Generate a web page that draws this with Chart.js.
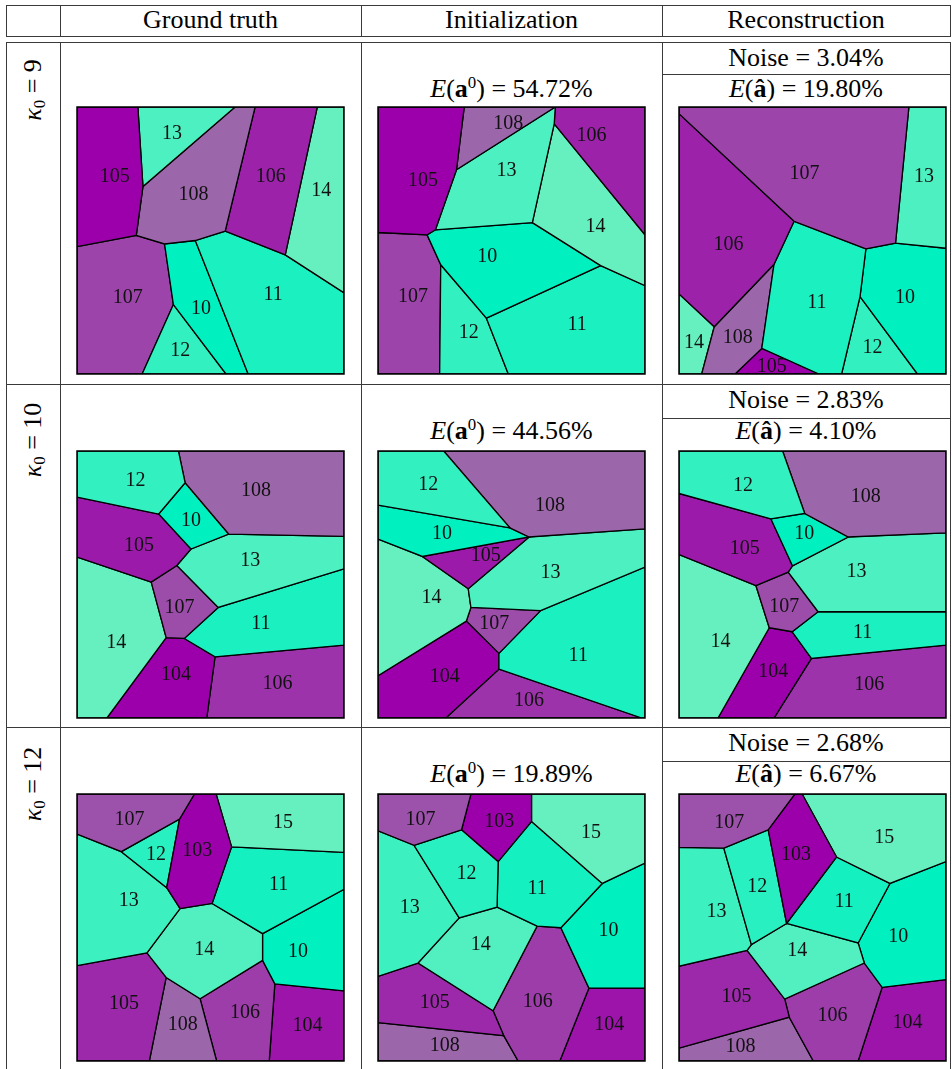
<!DOCTYPE html>
<html>
<head>
<meta charset="utf-8">
<title>Ground truth / Initialization / Reconstruction</title>
<script src="https://cdn.jsdelivr.net/npm/chart.js@4.4.1/dist/chart.umd.min.js"></script>
<style>
  body { margin: 0; background: #fff; }
  #page { position: relative; width: 952px; height: 1069px; overflow: hidden;
          font-family: "Liberation Serif", "Times New Roman", Times, "Nimbus Roman", "Noto Serif", "DejaVu Serif", FreeSerif, serif;
          color: #000; }
  .hl { position: absolute; height: 1px; background: #3a3a3a; }
  .vl { position: absolute; width: 1px; background: #3a3a3a; }
  .txt { position: absolute; text-align: center; font-size: 26px; line-height: 30px; white-space: nowrap; }
  .rot { position: absolute; font-size: 26px; line-height: 30px; white-space: nowrap;
         transform: translate(-50%, -50%) rotate(-90deg); }
  .panel { position: absolute; }
  sup { font-size: 65%; vertical-align: 0.55em; line-height: 0; }
  sub { font-size: 65%; vertical-align: -0.25em; line-height: 0; }
</style>
</head>
<body>
<div id="page"></div>
<script>
// ============================================
// DATA
// ============================================

const columns = ['Ground truth', 'Initialization', 'Reconstruction'];
const kappa = [9, 10, 12];
const initError = ['54.72', '44.56', '19.89'];
const noiseLevel = ['3.04', '2.83', '2.68'];
const reconError = ['19.80', '4.10', '6.67'];

// each cell: [id, polygon vertices (x right, y down, 0..100), label anchor]
const gt9 = [
  [105, [[0,0],[22.8,0],[24.7,29.8],[22.2,48.1],[0,52.3]], [14.1,26.3]],
  [13,  [[22.8,0],[59.2,0],[24.7,29.8]], [35.6,10]],
  [108, [[24.7,29.8],[59.2,0],[66.7,0],[55.5,46.5],[44.3,50],[32.8,51.3],[22.2,48.1]], [43.6,32.9]],
  [106, [[66.7,0],[90,0],[78,55.4],[55.5,46.5]], [72.6,26]],
  [14,  [[90,0],[100,0],[100,69.6],[78,55.4]], [91.5,31.5]],
  [11,  [[55.5,46.5],[78,55.4],[100,69.6],[100,100],[64.1,100],[44.3,50]], [73.5,70.4]],
  [10,  [[32.8,51.3],[44.3,50],[64.1,100],[55.8,100],[36.1,74]], [46.4,75.4]],
  [12,  [[36.1,74],[55.8,100],[24.4,100]], [38.7,91.3]],
  [107, [[0,52.3],[22.2,48.1],[32.8,51.3],[36.1,74],[24.4,100],[0,100]], [19,71.3]]
];

const init9 = [
  [105, [[0,0],[32.3,0],[29.4,23.5],[21.5,46],[18.4,47.9],[0,47]], [16.9,27.5]],
  [108, [[32.3,0],[66.4,0],[29.4,23.5]], [48.8,6.3]],
  [13,  [[29.4,23.5],[66.4,0],[66,6.3],[57.8,43.3],[21.5,46]], [48.1,23.9]],
  [106, [[66.4,0],[100,0],[100,47.9],[66,6.3]], [80,10.8]],
  [14,  [[66,6.3],[100,47.9],[100,66.9],[83.4,59.4],[57.8,43.3]], [81.5,45]],
  [10,  [[21.5,46],[57.8,43.3],[83.4,59.4],[40.6,79.1],[23.5,59.1],[18.4,47.9]], [40.9,56]],
  [11,  [[83.4,59.4],[100,66.9],[100,100],[48.8,100],[40.6,79.1]], [74.6,81.4]],
  [12,  [[23.5,59.1],[40.6,79.1],[48.8,100],[23.1,100]], [34,84.5]],
  [107, [[0,47],[18.4,47.9],[23.5,59.1],[23.1,100],[0,100]], [13.1,71]]
];

const recon9 = [
  [107, [[0,0],[86.1,0],[81.1,51],[70,53.1],[43.1,42.8],[0,2.5]], [47,25]],
  [13,  [[86.1,0],[100,0],[100,52.9],[81.1,51]], [91.8,26.3]],
  [106, [[0,2.5],[43.1,42.8],[35.6,58.9],[13.2,82.3],[0,70]], [18.5,51.6]],
  [11,  [[43.1,42.8],[70,53.1],[67.8,71],[60.9,100],[52.4,100],[31,90.4],[35.6,58.9]], [51.6,73.3]],
  [10,  [[70,53.1],[81.1,51],[100,52.9],[100,100],[89.3,100],[67.8,71]], [84.6,71.3]],
  [12,  [[67.8,71],[89.3,100],[60.9,100]], [72.5,90]],
  [108, [[35.6,58.9],[31,90.4],[21,100],[8.5,100],[13.2,82.3]], [22,86.3]],
  [14,  [[0,70],[13.2,82.3],[8.5,100],[0,100]], [5.6,88.3]],
  [105, [[31,90.4],[52.4,100],[21,100]], [34.7,97.1]]
];

const gt10 = [
  [12,  [[0,0],[38,0],[40.5,11.9],[30.6,23.6],[0,17.3]], [21.9,11]],
  [108, [[38,0],[100,0],[100,32],[56.8,31.1],[40.5,11.9]], [67,15]],
  [10,  [[40.5,11.9],[56.8,31.1],[42.7,36.7],[30.6,23.6]], [42.7,26]],
  [105, [[0,17.3],[30.6,23.6],[42.7,36.7],[37.4,42.9],[27.8,49.1],[0,39.7]], [23.2,35.3]],
  [13,  [[42.7,36.7],[56.8,31.1],[100,32],[100,44.1],[52.9,58.6],[37.4,42.9]], [64.9,41.1]],
  [107, [[37.4,42.9],[52.9,58.6],[40.2,70.2],[33.4,69.9],[27.8,49.1]], [38.4,58.6]],
  [14,  [[0,39.7],[27.8,49.1],[33.4,69.9],[11.2,100],[0,100]], [14.7,71.7]],
  [11,  [[52.9,58.6],[100,44.1],[100,72.7],[51.7,77.1],[40.2,70.2]], [68.9,64.8]],
  [104, [[33.4,69.9],[40.2,70.2],[51.7,77.1],[48.6,100],[11.2,100]], [37.1,83.7]],
  [106, [[51.7,77.1],[100,72.7],[100,100],[48.6,100]], [75.1,87.3]]
];

const init10 = [
  [12,  [[0,0],[24.6,0],[49.4,28.8],[0,20.3]], [18.8,12.5]],
  [108, [[24.6,0],[100,0],[100,29.2],[56.6,32.2],[49.4,28.8]], [64.4,20.4]],
  [10,  [[0,20.3],[49.4,28.8],[56.6,32.2],[16.6,39.5],[0,33]], [24,31]],
  [105, [[16.6,39.5],[56.6,32.2],[33.8,51.6]], [40.4,39.1]],
  [13,  [[56.6,32.2],[100,29.2],[100,43.5],[60.9,59.8],[34.8,58.6],[33.8,51.6]], [64.6,45.7]],
  [14,  [[0,33],[16.6,39.5],[33.8,51.6],[34.8,58.6],[33.1,63.7],[0,84.2]], [20,55.1]],
  [107, [[34.8,58.6],[60.9,59.8],[45.3,75.8],[33.1,63.7]], [43.5,64.8]],
  [11,  [[60.9,59.8],[100,43.5],[100,100],[98.8,100],[45.3,81.7],[45.3,75.8]], [75,76.7]],
  [104, [[33.1,63.7],[45.3,75.8],[45.3,81.7],[25.4,100],[0,100],[0,84.2]], [25,84.6]],
  [106, [[45.3,81.7],[98.8,100],[25.4,100]], [56.6,93.7]]
];

const recon10 = [
  [12,  [[0,0],[38.8,0],[47.1,23.4],[34.4,25.4],[0,15.9]], [24,13.2]],
  [108, [[38.8,0],[100,0],[100,30.7],[63.4,32.2],[47.1,23.4]], [69.9,17.3]],
  [10,  [[47.1,23.4],[63.4,32.2],[42.5,43],[34.4,25.4]], [46.9,31.1]],
  [105, [[0,15.9],[34.4,25.4],[42.5,43],[40.9,45.4],[28.8,50.4],[0,38.8]], [24.6,36.7]],
  [13,  [[42.5,43],[63.4,32.2],[100,30.7],[100,60.2],[52.1,60.2],[40.9,45.4]], [66.5,45.1]],
  [107, [[40.9,45.4],[52.1,60.2],[42.4,67.7],[33.8,66.2],[28.8,50.4]], [39.4,58.3]],
  [14,  [[0,38.8],[28.8,50.4],[33.8,66.2],[14.6,100],[0,100]], [15.5,71.4]],
  [11,  [[52.1,60.2],[100,60.2],[100,72.7],[49.6,77.7],[42.4,67.7]], [68.8,68]],
  [104, [[33.8,66.2],[42.4,67.7],[49.6,77.7],[35.6,100],[14.6,100]], [35.3,82.5]],
  [106, [[49.6,77.7],[100,72.7],[100,100],[35.6,100]], [71.3,87.7]]
];

const gt12 = [
  [107, [[0,0],[44,0],[38.4,9.4],[16.6,21.6],[0,15]], [19.7,9.6]],
  [103, [[44,0],[52.1,0],[57.9,19.8],[50.6,41],[38.6,42.9],[33.6,35.1],[38.4,9.4]], [45,21.3]],
  [15,  [[52.1,0],[100,0],[100,21.9],[57.9,19.8]], [77.2,10.7]],
  [12,  [[16.6,21.6],[38.4,9.4],[33.6,35.1]], [29.6,22.6]],
  [13,  [[0,15],[16.6,21.6],[33.6,35.1],[38.6,42.9],[26.2,59.5],[0,64.3]], [19.4,40.1]],
  [11,  [[57.9,19.8],[100,21.9],[100,35.7],[69.5,52.3],[50.6,41]], [75.5,34.1]],
  [14,  [[38.6,42.9],[50.6,41],[69.5,52.3],[69.5,62.3],[46.1,76.7],[33.4,68.7],[26.2,59.5]], [47.7,58.3]],
  [10,  [[69.5,52.3],[100,35.7],[100,73.7],[74.1,71.1],[69.5,62.3]], [82.8,58.9]],
  [105, [[0,64.3],[26.2,59.5],[33.4,68.7],[27.1,100],[0,100]], [17.6,78.7]],
  [108, [[33.4,68.7],[46.1,76.7],[52.3,100],[27.1,100]], [39.6,86.5]],
  [106, [[46.1,76.7],[69.5,62.3],[74.1,71.1],[72,100],[52.3,100]], [62.9,82.1]],
  [104, [[74.1,71.1],[100,73.7],[100,100],[72,100]], [86.3,86.7]]
];

const init12 = [
  [107, [[0,0],[34.8,0],[31.3,13.4],[13.5,19.2],[0,13.8]], [15.9,9.6]],
  [103, [[34.8,0],[57.5,0],[57.5,10.3],[45,25.3],[31.3,13.4]], [45.4,10.3]],
  [15,  [[57.5,0],[100,0],[100,25.9],[84,33.5],[57.5,10.3]], [79.8,14.4]],
  [12,  [[31.3,13.4],[45,25.3],[44.6,42.4],[30.4,46.4],[13.5,19.2]], [33.1,29.8]],
  [11,  [[57.5,10.3],[84,33.5],[68.5,50.1],[59.6,49.5],[44.6,42.4],[45,25.3]], [59.6,35.3]],
  [13,  [[0,13.8],[13.5,19.2],[30.4,46.4],[15,63.3],[0,68.3]], [11.9,42.6]],
  [14,  [[30.4,46.4],[44.6,42.4],[59.6,49.5],[43.1,81.2],[15,63.3]], [38.5,56.6]],
  [10,  [[84,33.5],[100,25.9],[100,72.7],[79,72.7],[68.5,50.1]], [86.3,51.4]],
  [105, [[0,68.3],[15,63.3],[43.1,81.2],[47.1,90.5],[0,85.6]], [21.3,78.1]],
  [106, [[59.6,49.5],[68.5,50.1],[79,72.7],[68.1,100],[52.5,100],[47.1,90.5],[43.1,81.2]], [59.8,77.7]],
  [108, [[0,85.6],[47.1,90.5],[52.5,100],[0,100]], [25,94.2]],
  [104, [[79,72.7],[100,72.7],[100,100],[68.1,100]], [86.6,86.5]]
];

const recon12 = [
  [107, [[0,0],[43.4,0],[33.4,13.4],[16.8,20.3],[0,20]], [18.8,10.9]],
  [103, [[43.4,0],[46.1,0],[59,23.6],[40.3,48.5],[33.4,13.4]], [43.8,22.6]],
  [15,  [[46.1,0],[100,0],[100,25.3],[79,33.5],[59,23.6]], [76.9,16.5]],
  [12,  [[16.8,20.3],[33.4,13.4],[40.3,48.5],[27.1,56.4]], [29.3,34.8]],
  [13,  [[0,20],[16.8,20.3],[27.1,56.4],[25.5,58.6],[0,64.5]], [14,44.2]],
  [11,  [[59,23.6],[79,33.5],[67.1,55.8],[40.3,48.5]], [61.8,40.5]],
  [14,  [[40.3,48.5],[67.1,55.8],[69.4,63.3],[39.6,76.8],[25.5,58.6],[27.1,56.4]], [44.3,58.6]],
  [10,  [[79,33.5],[100,25.3],[100,69.5],[76.1,72.4],[69.4,63.3],[67.1,55.8]], [82.1,53.3]],
  [105, [[0,64.5],[25.5,58.6],[39.6,76.8],[41.3,83.6],[0,95.2]], [21.5,75.8]],
  [106, [[39.6,76.8],[69.4,63.3],[76.1,72.4],[67.1,100],[50.3,100],[41.3,83.6]], [57.5,83.1]],
  [108, [[0,95.2],[41.3,83.6],[50.3,100],[0,100]], [23,94.6]],
  [104, [[76.1,72.4],[100,69.5],[100,100],[67.1,100]], [85.6,85.8]]
];

const panels = [
  [gt9, init9, recon9],
  [gt10, init10, recon10],
  [gt12, init12, recon12]
];

// ============================================
// LAYOUT
// ============================================

const page = document.getElementById('page');
const serif = '"Liberation Serif", "Times New Roman", Times, "Nimbus Roman", "Noto Serif", "DejaVu Serif", FreeSerif, serif';
const colLines = [6, 60, 361, 662, 950];
const rowTops = [42, 384, 727];
const panelLeft = [75, 376, 677];
const panelTop = [105, 449, 792];
const kappaY = [90, 440, 784];

function addDiv(cls, css, html) {
  const d = document.createElement('div');
  d.className = cls;
  Object.assign(d.style, css);
  if (html) d.innerHTML = html;
  page.appendChild(d);
  return d;
}

function hline(y, x0, x1) {
  addDiv('hl', { left: x0 + 'px', top: y + 'px', width: (x1 - x0 + 1) + 'px' });
}

function vline(x, y0, y1) {
  addDiv('vl', { left: x + 'px', top: y0 + 'px', height: (y1 - y0) + 'px' });
}

function centredText(html, x0, x1, cy) {
  addDiv('txt', { left: x0 + 'px', width: (x1 - x0) + 'px', top: (cy - 15) + 'px' }, html);
}

// table rules
hline(5, 6, 950);
hline(36, 6, 950);
hline(42, 6, 950);
hline(384, 6, 950);
hline(727, 6, 950);
colLines.forEach(x => { vline(x, 5, 37); vline(x, 42, 1069); });

// header
columns.forEach((name, i) => centredText(name, colLines[i + 1], colLines[i + 2], 20));

// row texts
rowTops.forEach((rt, r) => {
  addDiv('rot', { left: '33px', top: kappaY[r] + 'px' }, `<i>κ</i><sub>0</sub> = ${kappa[r]}`);
  centredText(`<i>E</i>(<b>a</b><sup>0</sup>) = ${initError[r]}%`, 361, 662, rt + 47);
  centredText(`Noise = ${noiseLevel[r]}%`, 662, 950, rt + 16);
  hline(rt + (r === 0 ? 32 : 34), 662, 950);
  centredText(`<i>E</i>(<b>â</b>) = ${reconError[r]}%`, 662, 950, rt + 47);
});

// ============================================
// CHARTS
// ============================================

function cellColour(id, ids) {
  const purple = id >= 100;
  const group = ids.filter(v => (v >= 100) === purple);
  const lo = Math.min(...group), hi = Math.max(...group);
  const shade = Math.round(102 * (hi > lo ? (id - lo) / (hi - lo) : 0));
  return purple ? `rgb(156,${shade},170)` : `rgb(${shade},240,192)`;
}

const cellLabels = {
  id: 'cellLabels',
  afterDatasetsDraw(chart) {
    const { ctx, chartArea, scales: { x, y } } = chart;
    ctx.save();
    ctx.beginPath();
    ctx.rect(chartArea.left, chartArea.top, chartArea.right - chartArea.left, chartArea.bottom - chartArea.top);
    ctx.clip();
    ctx.font = '20px ' + serif;
    ctx.fillStyle = '#111';
    ctx.textAlign = 'center';
    ctx.textBaseline = 'middle';
    chart.data.datasets.forEach(ds => {
      ctx.fillText(ds.label, x.getPixelForValue(ds.anchor[0]), y.getPixelForValue(ds.anchor[1]));
    });
    ctx.restore();
  }
};

const frame = {
  id: 'frame',
  afterDraw(chart) {
    const { ctx, chartArea: a } = chart;
    ctx.save();
    ctx.strokeStyle = '#000';
    ctx.lineWidth = 1.5;
    ctx.strokeRect(a.left, a.top, a.right - a.left, a.bottom - a.top);
    ctx.restore();
  }
};

function drawPanel(cells, left, top) {
  const canvas = document.createElement('canvas');
  canvas.className = 'panel';
  canvas.width = 271;
  canvas.height = 271;
  canvas.style.left = left + 'px';
  canvas.style.top = top + 'px';
  canvas.style.width = '271px';
  canvas.style.height = '271px';
  page.appendChild(canvas);

  const ids = cells.map(c => c[0]);
  new Chart(canvas, {
    type: 'line',
    data: {
      datasets: cells.map(([id, poly, anchor]) => ({
        label: String(id),
        anchor: anchor,
        data: poly.concat([poly[0]]).map(p => ({ x: p[0], y: p[1] })),
        backgroundColor: cellColour(id, ids),
        borderColor: '#000',
        borderWidth: 1.3,
        fill: 'shape',
        pointRadius: 0,
        tension: 0
      }))
    },
    options: {
      responsive: false,
      maintainAspectRatio: false,
      animation: false,
      devicePixelRatio: 1,
      layout: { padding: 2 },
      plugins: {
        legend: { display: false },
        tooltip: { enabled: false }
      },
      scales: {
        x: { type: 'linear', min: 0, max: 100, display: false },
        y: { type: 'linear', min: 0, max: 100, reverse: true, display: false }
      }
    },
    plugins: [cellLabels, frame]
  });
}

panels.forEach((row, r) => {
  row.forEach((cells, c) => drawPanel(cells, panelLeft[c], panelTop[r]));
});
</script>
</body>
</html>
